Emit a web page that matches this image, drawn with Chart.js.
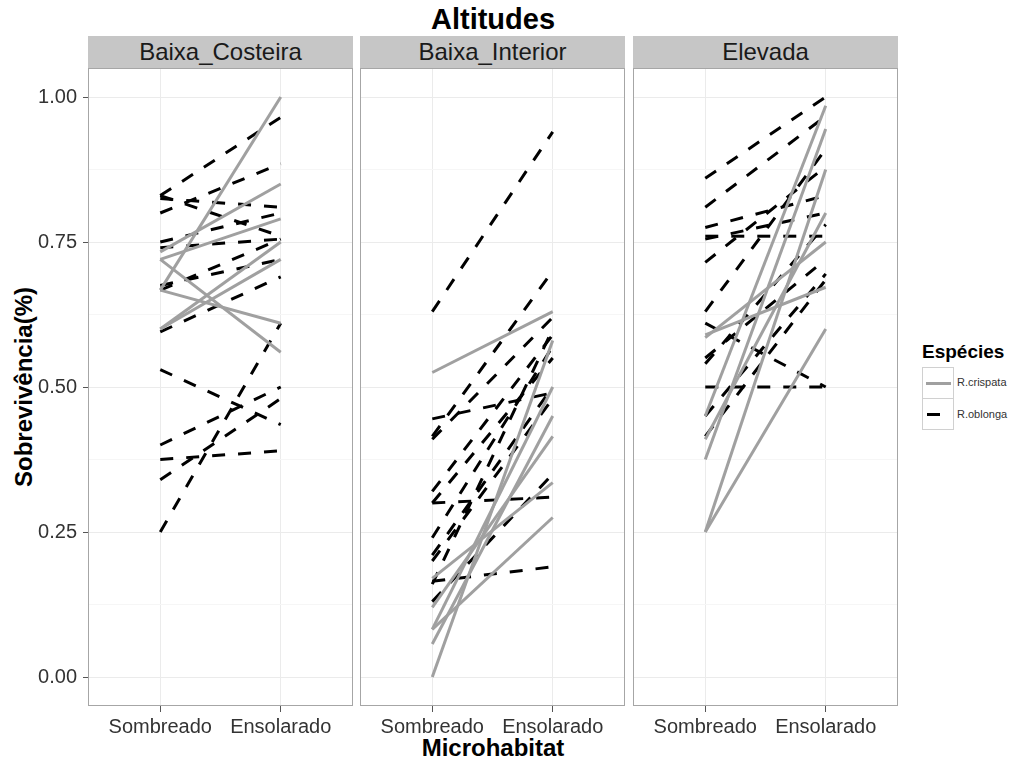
<!DOCTYPE html>
<html>
<head>
<meta charset="utf-8">
<script src="https://cdn.jsdelivr.net/npm/chart.js@4"></script>
<style>
  html, body { margin: 0; padding: 0; background: #fff; }
  #wrap { position: relative; width: 1021px; height: 765px; overflow: hidden; font-family: "Liberation Sans", Arial, sans-serif; }
  canvas { position: absolute; }
  .txt { position: absolute; white-space: nowrap; color: #000; }
  .strip { position: absolute; background: #c6c6c6; color: #1a1a1a; font-size: 24px; text-align: center; line-height: 32px; }
</style>
</head>
<body>
<div id="wrap">
  <div class="txt" id="title" style="left:0;width:986px;top:3px;text-align:center;font-size:29px;font-weight:bold;">Altitudes</div>
  <div class="txt" id="xtitle" style="left:0;width:986px;top:734px;text-align:center;font-size:24px;font-weight:bold;">Microhabitat</div>
  <div class="txt" id="ytitle" style="left:24px;top:387px;font-size:24px;font-weight:bold;transform:translate(-50%,-50%) rotate(-90deg);">Sobrevivência(%)</div>

  <div class="txt" style="left:922px;top:341px;font-size:19px;font-weight:bold;">Espécies</div>
  <div style="position:absolute;left:922px;top:367px;width:30px;height:30px;border:1px solid #d0d0d0;">
    <div style="position:absolute;left:3px;top:14px;width:25px;height:3px;background:#a0a0a0;"></div>
  </div>
  <div style="position:absolute;left:922px;top:398px;width:30px;height:31px;border:1px solid #d0d0d0;border-top:none;">
    <div style="position:absolute;left:4px;top:15px;width:13px;height:3px;background:#000;"></div>
  </div>
  <div class="txt" style="left:957px;top:376px;font-size:11px;color:#333;">R.crispata</div>
  <div class="txt" style="left:957px;top:408px;font-size:11px;color:#333;">R.oblonga</div>
</div>
<script>
// Microhabitat categories on the x axis and the three altitude panels
const categories = ['Sombreado', 'Ensolarado'];
const panelNames = ['Baixa_Costeira', 'Baixa_Interior', 'Elevada'];
const speciesNames = ['R.crispata', 'R.oblonga'];
const yTickValues = [0, 0.25, 0.5, 0.75, 1];

// Survival per plot: value in shade (Sombreado) and in sun (Ensolarado)
const costeiraCrispataSombreado  = [0.667, 0.733, 0.72, 0.72, 0.667, 0.60, 0.60];
const costeiraCrispataEnsolarado = [1.00, 0.85, 0.79, 0.56, 0.61, 0.75, 0.72];
const costeiraOblongaSombreado   = [0.83, 0.80, 0.825, 0.83, 0.75, 0.74, 0.667, 0.675, 0.595, 0.53, 0.40, 0.375, 0.34, 0.25];
const costeiraOblongaEnsolarado  = [0.965, 0.885, 0.81, 0.76, 0.80, 0.755, 0.755, 0.72, 0.69, 0.435, 0.50, 0.39, 0.48, 0.61];

const interiorCrispataSombreado  = [0.525, 0.00, 0.057, 0.082, 0.082, 0.12, 0.17];
const interiorCrispataEnsolarado = [0.63, 0.58, 0.45, 0.50, 0.275, 0.415, 0.335];
const interiorOblongaSombreado   = [0.63, 0.445, 0.415, 0.41, 0.32, 0.30, 0.30, 0.24, 0.21, 0.20, 0.165, 0.13, 0.16];
const interiorOblongaEnsolarado  = [0.94, 0.49, 0.70, 0.62, 0.59, 0.31, 0.55, 0.57, 0.50, 0.48, 0.19, 0.35, 0.60];

const elevadaCrispataSombreado   = [0.25, 0.25, 0.375, 0.41, 0.45, 0.585, 0.59];
const elevadaCrispataEnsolarado  = [0.60, 0.875, 0.945, 0.80, 0.985, 0.75, 0.672];
const elevadaOblongaSombreado    = [0.86, 0.81, 0.775, 0.76, 0.755, 0.715, 0.63, 0.61, 0.55, 0.54, 0.50, 0.45, 0.415];
const elevadaOblongaEnsolarado   = [1.00, 0.967, 0.83, 0.76, 0.80, 0.88, 0.91, 0.50, 0.72, 0.78, 0.50, 0.695, 0.685];

const panelSeries = [
  [[costeiraCrispataSombreado, costeiraCrispataEnsolarado], [costeiraOblongaSombreado, costeiraOblongaEnsolarado]],
  [[interiorCrispataSombreado, interiorCrispataEnsolarado], [interiorOblongaSombreado, interiorOblongaEnsolarado]],
  [[elevadaCrispataSombreado, elevadaCrispataEnsolarado], [elevadaOblongaSombreado, elevadaOblongaEnsolarado]]
];

// Layout of the facet panels
const panelLeft = [88, 360, 633];
const panelWidth = 265;
const panelTop = 68;
const panelHeight = 638;
const stripHeight = 32;
const yAxisWidth = 88;
const xAxisHeight = 40;

const speciesStyle = [
  { color: '#a0a0a0', dash: [] },
  { color: '#000000', dash: [13, 13] }
];

const panelBorder = {
  id: 'panelBorder',
  afterDraw(chart) {
    const a = chart.chartArea, c = chart.ctx;
    c.save();
    c.strokeStyle = '#a6a6a6';
    c.lineWidth = 1;
    c.strokeRect(Math.round(a.left) + 0.5, Math.round(a.top) + 0.5, Math.round(a.right - a.left) - 1, Math.round(a.bottom - a.top) - 1);
    c.restore();
  }
};

const wrap = document.getElementById('wrap');

panelNames.forEach((name, p) => {
  const strip = document.createElement('div');
  strip.className = 'strip';
  strip.style.left = panelLeft[p] + 'px';
  strip.style.top = (panelTop - stripHeight) + 'px';
  strip.style.width = panelWidth + 'px';
  strip.style.height = stripHeight + 'px';
  strip.textContent = name;
  wrap.appendChild(strip);

  const showY = p === 0;
  const padL = showY ? yAxisWidth : 0;
  const cv = document.createElement('canvas');
  cv.width = panelWidth + padL;
  cv.height = panelHeight + xAxisHeight;
  cv.style.left = (panelLeft[p] - padL) + 'px';
  cv.style.top = panelTop + 'px';
  cv.style.width = cv.width + 'px';
  cv.style.height = cv.height + 'px';
  wrap.appendChild(cv);

  const datasets = [];
  panelSeries[p].forEach((pair, s) => {
    const [somb, ens] = pair;
    somb.forEach((v, i) => {
      datasets.push({
        label: speciesNames[s],
        data: [{ x: 1, y: v }, { x: 2, y: ens[i] }],
        borderColor: speciesStyle[s].color,
        borderDash: speciesStyle[s].dash,
        borderWidth: 3,
        borderCapStyle: 'butt',
        pointRadius: 0,
        fill: false,
        tension: 0
      });
    });
  });

  new Chart(cv, {
    type: 'line',
    data: { datasets },
    plugins: [panelBorder],
    options: {
      responsive: false,
      animation: false,
      devicePixelRatio: 1,
      layout: { padding: 0 },
      plugins: { legend: { display: false }, tooltip: { enabled: false }, title: { display: false } },
      scales: {
        x: {
          type: 'linear',
          min: 0.4,
          max: 2.6,
          afterBuildTicks(scale) { scale.ticks = [{ value: 1 }, { value: 2 }]; },
          afterFit(scale) { scale.height = xAxisHeight; scale.paddingLeft = 0; scale.paddingRight = 0; },
          border: { display: false },
          grid: { color: '#ebebeb', lineWidth: 1, tickColor: '#555', tickLength: 6, drawTicks: true },
          ticks: {
            padding: 3,
            color: '#333',
            font: { family: 'Liberation Sans', size: 20 },
            maxRotation: 0,
            callback: (v) => categories[Math.round(v) - 1]
          }
        },
        y: {
          type: 'linear',
          min: -0.05,
          max: 1.05,
          afterBuildTicks(scale) {
            const t = [];
            for (let k = 0; k <= 8; k++) t.push({ value: k * 0.125 });
            scale.ticks = t;
          },
          afterFit(scale) { scale.width = padL; scale.paddingTop = 0; scale.paddingBottom = 0; },
          border: { display: false },
          grid: {
            color: (ctx) => (ctx.tick && yTickValues.some(v => Math.abs(v - ctx.tick.value) < 1e-6)) ? '#ebebeb' : '#f6f6f6',
            tickColor: (ctx) => (showY && ctx.tick && yTickValues.some(v => Math.abs(v - ctx.tick.value) < 1e-6)) ? '#555' : 'rgba(0,0,0,0)',
            tickLength: showY ? 5 : 0,
            drawTicks: showY
          },
          ticks: {
            display: showY,
            padding: 6,
            color: '#333',
            font: { family: 'Liberation Sans', size: 20 },
            callback: (v) => yTickValues.some(t => Math.abs(t - v) < 1e-6) ? v.toFixed(2) : ''
          }
        }
      }
    }
  });
});
</script>
</body>
</html>
